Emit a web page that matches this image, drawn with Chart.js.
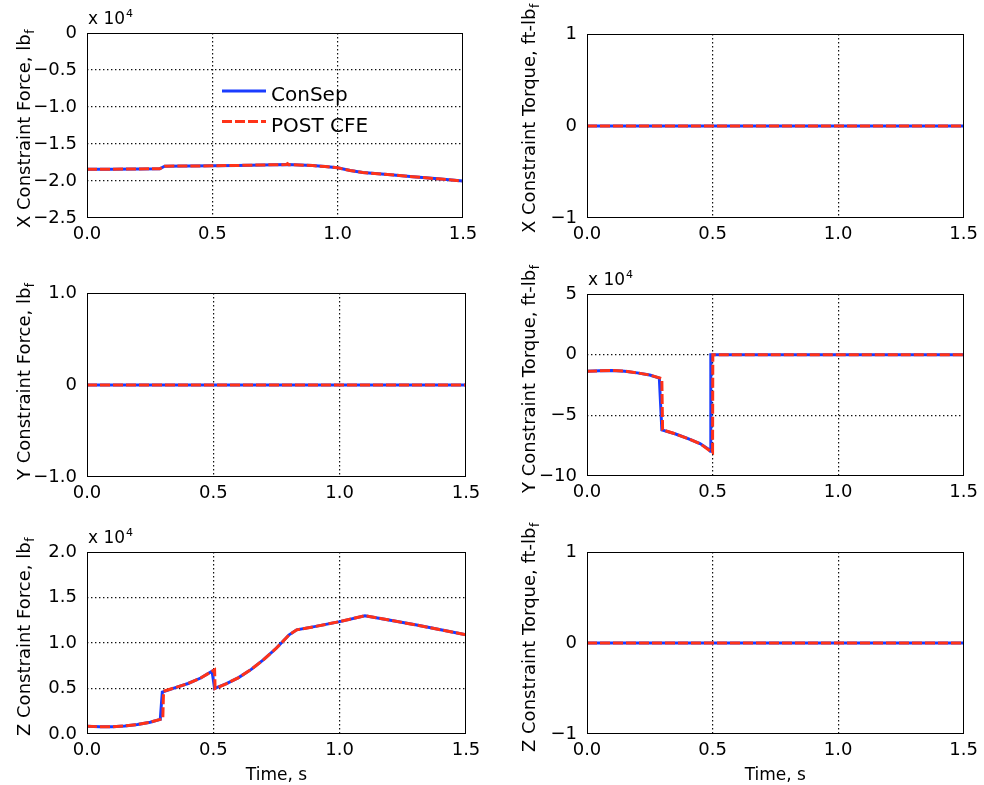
<!DOCTYPE html>
<html>
<head>
<meta charset="utf-8">
<title>ConSep vs POST CFE constraint loads</title>
<script src="https://cdn.jsdelivr.net/npm/chart.js"></script>
<style>
  body { margin: 0; background: #fff; }
  #page { position: relative; width: 984px; height: 785px; overflow: hidden; }
  #page canvas { position: absolute; }
</style>
</head>
<body>
<div id="page"></div>
<script>
// time axis (s), shared by all panels
const timeTicks = [0, 0.5, 1.0, 1.5];
const timeTickLabels = ['0.0', '0.5', '1.0', '1.5'];

// X constraint force (x 10^4 lbf)
const fxConSepT = [0, 0.1, 0.2, 0.29, 0.31, 0.4, 0.5, 0.6, 0.7, 0.8, 0.9, 0.95, 1.0, 1.05, 1.1, 1.2, 1.3, 1.4, 1.5];
const fxConSepV = [-1.84, -1.84, -1.837, -1.835, -1.80, -1.797, -1.795, -1.79, -1.783, -1.777, -1.792, -1.805, -1.822, -1.858, -1.885, -1.913, -1.942, -1.971, -2.0];
const fxPostT = [0, 0.1, 0.2, 0.29, 0.31, 0.4, 0.5, 0.6, 0.7, 0.795, 0.8, 0.805, 0.9, 0.95, 1.0, 1.05, 1.1, 1.2, 1.3, 1.4, 1.5];
const fxPostV = [-1.84, -1.84, -1.837, -1.835, -1.80, -1.797, -1.795, -1.79, -1.783, -1.778, -1.766, -1.779, -1.792, -1.805, -1.822, -1.858, -1.885, -1.913, -1.942, -1.971, -2.0];
const fxTicks = [-2.5, -2.0, -1.5, -1.0, -0.5, 0];
const fxTickLabels = ['−2.5', '−2.0', '−1.5', '−1.0', '−0.5', '0'];

// X constraint torque (ft-lbf)
const mxTime = [0, 0.5, 1.0, 1.5];
const mxConSepV = [0, 0, 0, 0];
const mxPostV = [0, 0, 0, 0];
const mxTicks = [-1, 0, 1];
const mxTickLabels = ['−1', '0', '1'];

// Y constraint force (lbf)
const fyTime = [0, 0.5, 1.0, 1.5];
const fyConSepV = [0, 0, 0, 0];
const fyPostV = [0, 0, 0, 0];
const fyTicks = [-1, 0, 1];
const fyTickLabels = ['−1.0', '0', '1.0'];

// Y constraint torque (x 10^4 ft-lbf)
const myConSepT = [0, 0.05, 0.1, 0.15, 0.2, 0.25, 0.288, 0.298, 0.35, 0.40, 0.45, 0.485, 0.491, 0.493, 1.0, 1.5];
const myConSepV = [-1.37, -1.33, -1.31, -1.36, -1.5, -1.68, -1.93, -6.2, -6.52, -6.9, -7.33, -7.8, -7.95, 0, 0, 0];
const myPostT = [0, 0.05, 0.1, 0.15, 0.2, 0.25, 0.298, 0.301, 0.35, 0.40, 0.45, 0.49, 0.5, 0.501, 1.0, 1.5];
const myPostV = [-1.37, -1.33, -1.31, -1.36, -1.5, -1.68, -1.97, -6.2, -6.52, -6.9, -7.33, -7.93, -8.06, 0, 0, 0];
const myTicks = [-10, -5, 0, 5];
const myTickLabels = ['−10', '−5', '0', '5'];

// Z constraint force (x 10^4 lbf)
const fzConSepT = [0, 0.05, 0.1, 0.15, 0.2, 0.25, 0.29, 0.298, 0.35, 0.40, 0.45, 0.495, 0.505, 0.55, 0.6, 0.65, 0.7, 0.75, 0.8, 0.83, 0.9, 1.0, 1.1, 1.2, 1.3, 1.4, 1.5];
const fzConSepV = [0.085, 0.08, 0.08, 0.088, 0.105, 0.13, 0.16, 0.46, 0.51, 0.555, 0.615, 0.69, 0.50, 0.55, 0.62, 0.71, 0.82, 0.945, 1.09, 1.145, 1.18, 1.235, 1.30, 1.25, 1.20, 1.145, 1.09];
const fzPostT = [0, 0.05, 0.1, 0.15, 0.2, 0.25, 0.29, 0.30, 0.303, 0.35, 0.40, 0.45, 0.495, 0.505, 0.507, 0.55, 0.6, 0.65, 0.7, 0.75, 0.8, 0.83, 0.9, 1.0, 1.1, 1.2, 1.3, 1.4, 1.5];
const fzPostV = [0.085, 0.08, 0.08, 0.088, 0.105, 0.13, 0.16, 0.17, 0.47, 0.51, 0.555, 0.615, 0.69, 0.705, 0.50, 0.55, 0.62, 0.71, 0.82, 0.945, 1.09, 1.145, 1.18, 1.235, 1.30, 1.25, 1.20, 1.145, 1.09];
const fzTicks = [0, 0.5, 1.0, 1.5, 2.0];
const fzTickLabels = ['0.0', '0.5', '1.0', '1.5', '2.0'];

// Z constraint torque (ft-lbf)
const mzTime = [0, 0.5, 1.0, 1.5];
const mzConSepV = [0, 0, 0, 0];
const mzPostV = [0, 0, 0, 0];
const mzTicks = [-1, 0, 1];
const mzTickLabels = ['−1', '0', '1'];

const FAMILY = '"DejaVu Sans", sans-serif';
const BLUE = '#1a3cff';
const RED = '#ff3318';
const Y_AXIS_W = 60;
const X_AXIS_H = 40;

// box = canvas on the page, area = plot box on the page (left, top, right, bottom)
const panels = [
  { box: [0, 0, 492, 260], area: [87, 33, 463, 218], ticks: fxTicks, labels: fxTickLabels,
    title: ['X Constraint Force, lb', 'f'], titleAt: [29.5, 228], exponent: true, legend: true,
    con: [fxConSepT, fxConSepV], post: [fxPostT, fxPostV] },
  { box: [492, 0, 492, 260], area: [587, 34, 965, 218], ticks: mxTicks, labels: mxTickLabels,
    title: ['X Constraint Torque, ft-lb', 'f'], titleAt: [535, 233],
    con: [mxTime, mxConSepV], post: [mxTime, mxPostV] },
  { box: [0, 260, 492, 260], area: [87, 293, 466, 477], ticks: fyTicks, labels: fyTickLabels,
    title: ['Y Constraint Force, lb', 'f'], titleAt: [29.5, 480],
    con: [fyTime, fyConSepV], post: [fyTime, fyPostV] },
  { box: [492, 260, 492, 260], area: [587, 294, 965, 476], ticks: myTicks, labels: myTickLabels,
    title: ['Y Constraint Torque, ft-lb', 'f'], titleAt: [535, 493], exponent: true,
    con: [myConSepT, myConSepV], post: [myPostT, myPostV] },
  { box: [0, 520, 492, 265], area: [87, 552, 466, 734], ticks: fzTicks, labels: fzTickLabels,
    title: ['Z Constraint Force, lb', 'f'], titleAt: [29.5, 736], exponent: true, xTitle: 'Time, s',
    con: [fzConSepT, fzConSepV], post: [fzPostT, fzPostV] },
  { box: [492, 520, 492, 265], area: [587, 552, 965, 734], ticks: mzTicks, labels: mzTickLabels,
    title: ['Z Constraint Torque, ft-lb', 'f'], titleAt: [535, 752], xTitle: 'Time, s',
    con: [mzTime, mzConSepV], post: [mzTime, mzPostV] }
];

const pts = (t, v) => t.map((x, i) => ({ x: x, y: v[i] }));
const innerOnly = (vals) => (c) => (c.index === 0 || c.index === vals.length - 1) ? 'rgba(0,0,0,0)' : '#111';

// box, axis titles, exponent and legend drawn on top of the chart
const decor = {
  id: 'decor',
  afterDraw(chart, args, o) {
    const ctx = chart.ctx;
    const a = chart.chartArea;
    const ox = o.box[0], oy = o.box[1];
    ctx.save();
    ctx.strokeStyle = '#000';
    ctx.lineWidth = 1;
    ctx.setLineDash([]);
    ctx.strokeRect(Math.round(a.left) + 0.5, Math.round(a.top) + 0.5,
      Math.round(a.right - a.left) - 1, Math.round(a.bottom - a.top) - 1);

    ctx.fillStyle = '#000';
    ctx.textAlign = 'left';
    ctx.textBaseline = 'alphabetic';

    // rotated y title with subscript
    ctx.save();
    ctx.translate(o.titleAt[0] - ox, o.titleAt[1] - oy);
    ctx.rotate(-Math.PI / 2);
    ctx.font = '18px ' + FAMILY;
    ctx.fillText(o.title[0], 0, 0);
    const tw = ctx.measureText(o.title[0]).width;
    ctx.font = '12px ' + FAMILY;
    ctx.fillText(o.title[1], tw + 0.5, 4);
    ctx.restore();

    if (o.exponent) {
      const ex = a.left + 1, ey = a.top - 9;
      ctx.font = '17px ' + FAMILY;
      ctx.fillText('x 10', ex, ey);
      const w = ctx.measureText('x 10').width;
      ctx.font = '11px ' + FAMILY;
      ctx.fillText('4', ex + w + 1, ey - 7);
    }

    if (o.xTitle) {
      ctx.font = '17px ' + FAMILY;
      ctx.textAlign = 'center';
      ctx.fillText(o.xTitle, (a.left + a.right) / 2, 780 - oy);
      ctx.textAlign = 'left';
    }

    if (o.legend) {
      const rows = [91, 121.5];
      chart.data.datasets.forEach((ds, i) => {
        const y = rows[i] - oy;
        ctx.strokeStyle = ds.borderColor;
        ctx.lineWidth = 3;
        ctx.setLineDash(ds.borderDash || []);
        ctx.beginPath();
        ctx.moveTo(222 - ox, y);
        ctx.lineTo(266 - ox, y);
        ctx.stroke();
        ctx.font = '20px ' + FAMILY;
        ctx.fillText(ds.label, 271 - ox, y + 10);
      });
    }
    ctx.restore();
  }
};

const page = document.getElementById('page');

panels.forEach((p) => {
  const [cx, cy, cw, ch] = p.box;
  const [L, T, R, B] = p.area;
  const canvas = document.createElement('canvas');
  canvas.width = cw;
  canvas.height = ch;
  canvas.style.left = cx + 'px';
  canvas.style.top = cy + 'px';
  canvas.style.width = cw + 'px';
  canvas.style.height = ch + 'px';
  page.appendChild(canvas);

  new Chart(canvas, {
    type: 'line',
    data: {
      datasets: [
        { label: 'ConSep', data: pts(p.con[0], p.con[1]), borderColor: BLUE, borderWidth: 3,
          pointRadius: 0, tension: 0, order: 1 },
        { label: 'POST CFE', data: pts(p.post[0], p.post[1]), borderColor: RED, borderWidth: 3,
          borderDash: [10, 3], pointRadius: 0, tension: 0, order: 0 }
      ]
    },
    options: {
      responsive: false,
      animation: false,
      devicePixelRatio: 1,
      events: [],
      layout: {
        padding: { left: L - cx - Y_AXIS_W, top: T - cy, right: cx + cw - R, bottom: cy + ch - B - X_AXIS_H }
      },
      plugins: {
        legend: { display: false },
        tooltip: { enabled: false },
        decor: { box: p.box, title: p.title, titleAt: p.titleAt, exponent: p.exponent,
          legend: p.legend, xTitle: p.xTitle }
      },
      scales: {
        x: {
          type: 'linear',
          min: timeTicks[0],
          max: timeTicks[timeTicks.length - 1],
          afterBuildTicks: (s) => { s.ticks = timeTicks.map((v) => ({ value: v })); },
          afterFit: (s) => { s.height = X_AXIS_H; },
          ticks: {
            autoSkip: false, maxRotation: 0, padding: 6, color: '#000',
            font: { family: FAMILY, size: 18 },
            callback: (v) => timeTickLabels[timeTicks.indexOf(v)]
          },
          grid: { drawTicks: false, lineWidth: 1.2, color: innerOnly(timeTicks) },
          border: { display: false, dash: [1.4, 2.6] }
        },
        y: {
          type: 'linear',
          min: p.ticks[0],
          max: p.ticks[p.ticks.length - 1],
          afterBuildTicks: (s) => { s.ticks = p.ticks.map((v) => ({ value: v })); },
          afterFit: (s) => { s.width = Y_AXIS_W; },
          ticks: {
            autoSkip: false, padding: 10, color: '#000',
            font: { family: FAMILY, size: 18 },
            callback: (v) => p.labels[p.ticks.indexOf(v)]
          },
          grid: { drawTicks: false, lineWidth: 1.2, color: innerOnly(p.ticks) },
          border: { display: false, dash: [1.4, 2.6] }
        }
      }
    },
    plugins: [decor]
  });
});
</script>
</body>
</html>
